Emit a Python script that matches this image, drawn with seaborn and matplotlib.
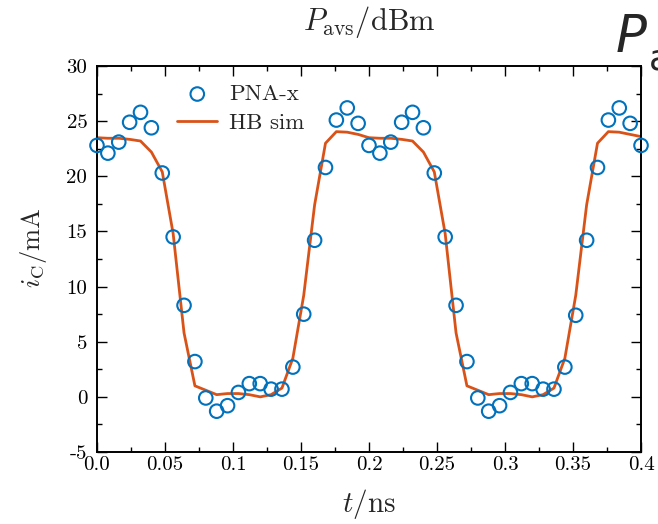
import numpy as np
import pandas as pd
import matplotlib
matplotlib.use("Agg")
import matplotlib.pyplot as plt
import seaborn as sns

# Time grid (ns) shared by measurement and harmonic-balance simulation
t_ns = [round(0.008 * k, 3) for k in range(51)]

# Measured collector current (PNA-X), mA
i_meas = [22.8, 22.1, 23.1, 24.9, 25.8, 24.4, 20.3, 14.5, 8.3, 3.2, -0.1,
          -1.3, -0.8, 0.4, 1.2, 1.2, 0.7, 0.7, 2.7, 7.5, 14.2, 20.8, 25.1,
          26.2, 24.8, 22.8, 22.1, 23.1, 24.9, 25.8, 24.4, 20.3, 14.5, 8.3,
          3.2, -0.1, -1.3, -0.8, 0.4, 1.2, 1.2, 0.7, 0.7, 2.7, 7.4, 14.2,
          20.8, 25.1, 26.2, 24.8, 22.8]

# Harmonic-balance simulation, mA
i_sim = [23.5, 23.45, 23.45, 23.35, 23.2, 22.2, 20.4, 14.8, 5.8, 1.0, 0.6,
         0.2, 0.3, 0.3, 0.2, 0.0, 0.2, 0.8, 3.5, 9.2, 17.4, 23.0, 24.05,
         24.0, 23.8, 23.5, 23.45, 23.45, 23.35, 23.2, 22.2, 20.4, 14.8, 5.8,
         1.0, 0.6, 0.2, 0.3, 0.3, 0.2, 0.0, 0.2, 0.8, 3.5, 9.2, 17.4, 23.0,
         24.05, 24.0, 23.8, 23.6]

x_ticks = [0.0, 0.05, 0.1, 0.15, 0.2, 0.25, 0.3, 0.35, 0.4]
x_tick_labels = ["0.0", "0.05", "0.1", "0.15", "0.2", "0.25", "0.3", "0.35", "0.4"]
y_ticks = [-5, 0, 5, 10, 15, 20, 25, 30]
y_tick_labels = ["-5", "0", "5", "10", "15", "20", "25", "30"]

meas = pd.DataFrame({"t": t_ns, "i": i_meas})
sim = pd.DataFrame({"t": t_ns, "i": i_sim})

sns.set_style("ticks")
plt.rcParams.update({
    "font.family": "serif",
    "font.serif": ["cmr10"],
    "mathtext.fontset": "cm",
    "axes.unicode_minus": False,
    "axes.formatter.use_mathtext": True,
})

blue = "#0072BD"
orange = "#D95319"

fig = plt.figure(figsize=(6.58, 5.24), dpi=100)
ax = fig.add_axes([0.1474, 0.1374, 0.8268, 0.7366])

sns.lineplot(data=sim, x="t", y="i", ax=ax, color=orange, linewidth=2.0,
             label="HB sim", zorder=2)
sns.scatterplot(data=meas, x="t", y="i", ax=ax, marker="o", s=95,
                facecolors="none", edgecolor=blue, linewidth=1.5,
                label="PNA-x", zorder=3, clip_on=False)

ax.set_xlim(0.0, 0.4)
ax.set_ylim(-5, 30)
ax.set_xticks(x_ticks)
ax.set_xticklabels(x_tick_labels)
ax.set_yticks(y_ticks)
ax.set_yticklabels(y_tick_labels)
ax.set_xticks(np.arange(0.025, 0.4, 0.05), minor=True)
ax.set_yticks(np.arange(-2.5, 30, 5), minor=True)

ax.tick_params(which="both", direction="in", top=True, right=True,
               width=1.0, labelsize=15, colors="black")
ax.tick_params(which="major", length=7)
ax.tick_params(which="minor", length=3.5)
ax.tick_params(axis="x", pad=3)
ax.tick_params(axis="y", pad=7)
for s in ax.spines.values():
    s.set_visible(True)
    s.set_linewidth(1.4)
    s.set_color("black")

ax.set_xlabel(r"$t/\mathrm{ns}$", fontsize=21, labelpad=9)
ax.set_ylabel(r"$i_\mathrm{C}/\mathrm{mA}$", fontsize=19)
ax.yaxis.set_label_coords(-0.088, 0.53)
ax.set_title(r"$P_\mathrm{avs}/\mathrm{dBm}$", fontsize=22, pad=26)

handles, labels = ax.get_legend_handles_labels()
order = [labels.index("PNA-x"), labels.index("HB sim")]
ax.legend([handles[i] for i in order], [labels[i] for i in order],
          loc="upper left", bbox_to_anchor=(0.118, 0.995), frameon=False,
          fontsize=16.5, handlelength=1.75, handletextpad=0.5,
          labelspacing=0.4, borderaxespad=0.3)

# Oversized power label running off the right edge
fig.text(0.935, 0.9, "P", fontfamily="DejaVu Sans", fontstyle="italic",
         fontsize=37, ha="left", va="baseline")
fig.text(0.986, 0.868, "avs", fontfamily="DejaVu Sans",
         fontsize=26, ha="left", va="baseline")

fig.savefig("out.png", dpi=100)
